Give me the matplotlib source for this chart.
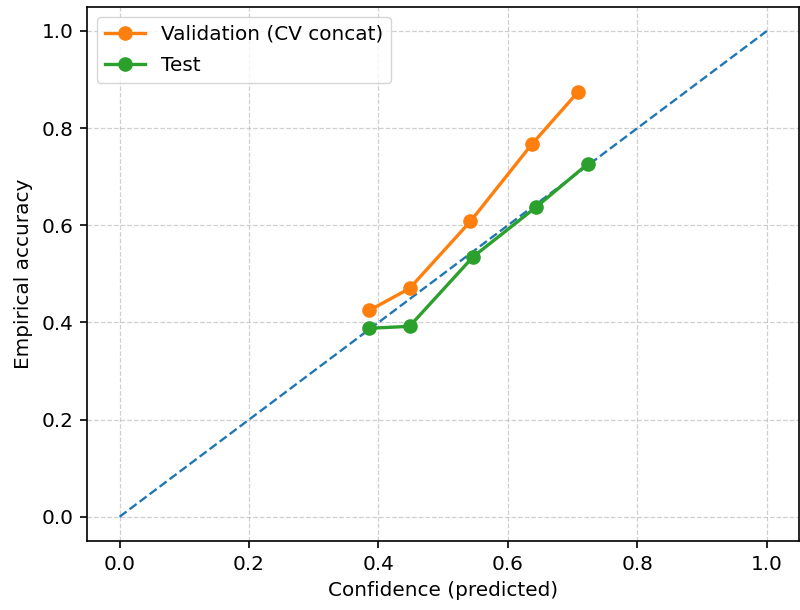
import numpy as np
import matplotlib
matplotlib.use("Agg")
import matplotlib.pyplot as plt

# reliability curve values
val_conf = [0.386, 0.448, 0.542, 0.637, 0.708]
val_acc = [0.425, 0.470, 0.608, 0.767, 0.874]
test_conf = [0.385, 0.448, 0.546, 0.643, 0.723]
test_acc = [0.388, 0.392, 0.535, 0.637, 0.726]
ticks = [0.0, 0.2, 0.4, 0.6, 0.8, 1.0]

fs = 14.4

fig, ax = plt.subplots(figsize=(8, 6.1), dpi=100)
fig.subplots_adjust(left=0.109, right=0.999, top=0.989, bottom=0.113)

ax.plot([0, 1], [0, 1], linestyle="--", color="#1f77b4", linewidth=1.7)
ax.plot(val_conf, val_acc, marker="o", color="#ff7f0e", linewidth=2.4,
        markersize=9.5, label="Validation (CV concat)")
ax.plot(test_conf, test_acc, marker="o", color="#2ca02c", linewidth=2.4,
        markersize=9.5, label="Test")

ax.set_xticks(ticks)
ax.set_yticks(ticks)
ax.set_xlim(-0.05, 1.05)
ax.set_ylim(-0.05, 1.05)
ax.grid(True, linestyle="--", color="#b0b0b0", linewidth=0.9, alpha=0.6)
ax.tick_params(labelsize=fs, width=1.2, length=5, pad=5)
for s in ax.spines.values():
    s.set_linewidth(1.2)
ax.set_xlabel("Confidence (predicted)", fontsize=fs, labelpad=5)
ax.set_ylabel("Empirical accuracy", fontsize=fs, labelpad=6)
ax.legend(loc="upper left", fontsize=fs, labelspacing=0.6)

plt.savefig("out.png")
